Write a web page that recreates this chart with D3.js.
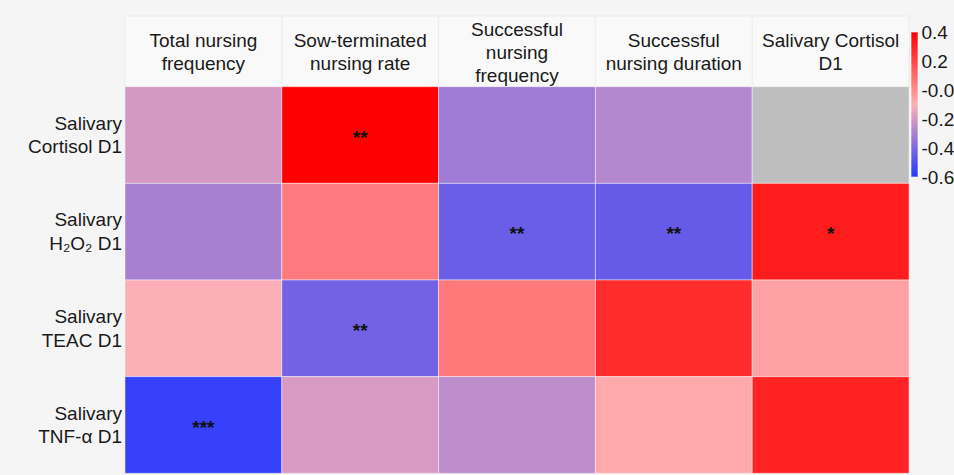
<!DOCTYPE html>
<html>
<head>
<meta charset="utf-8">
<script src="https://cdn.jsdelivr.net/npm/d3@7"></script>
<style>
  body { margin: 0; background: #f5f5f5; }
  svg { display: block; font-family: "Liberation Sans", Arial, sans-serif; }
</style>
</head>
<body>
<div id="chart"></div>
<script>
// correlation heatmap, salivary markers vs nursing behaviour
var columns = ["Total nursing\nfrequency", "Sow-terminated\nnursing rate", "Successful\nnursing\nfrequency", "Successful\nnursing duration", "Salivary Cortisol\nD1"]
var rows = ["Salivary\nCortisol D1", "Salivary\nH\u2082O\u2082 D1", "Salivary\nTEAC D1", "Salivary\nTNF-\u03b1 D1"]

// correlation coefficients, one array per row (null = not computed)
var cortisolR = [-0.20, 0.40, -0.32, -0.27, null]
var h2o2R = [-0.30, 0.05, -0.44, -0.45, 0.32]
var teacR = [-0.11, -0.42, 0.06, 0.275, -0.055]
var tnfR = [-0.56, -0.19, -0.25, -0.08, 0.30]

// significance marks
var cortisolSig = ["", "**", "", "", ""]
var h2o2Sig = ["", "", "**", "**", "*"]
var teacSig = ["", "**", "", "", ""]
var tnfSig = ["***", "", "", "", ""]

var legendTicks = [0.4, 0.2, 0, -0.2, -0.4, -0.6]
var legendLabels = ["0.4", "0.2", "-0.0", "-0.2", "-0.4", "-0.6"]

var values = [cortisolR, h2o2R, teacR, tnfR]
var sigs = [cortisolSig, h2o2Sig, teacSig, tnfSig]

var cells = []
values.forEach(function(r, i) {
  r.forEach(function(v, j) {
    cells.push({row: rows[i], col: columns[j], value: v, sig: sigs[i][j]})
  })
})

var width = 954, height = 475
var grid = {left: 125, right: 909, top: 86.7, bottom: 473.3}

var svg = d3.select("#chart")
  .append("svg")
    .attr("width", width)
    .attr("height", height)

var x = d3.scaleBand()
  .domain(columns)
  .range([grid.left, grid.right])

var y = d3.scaleBand()
  .domain(rows)
  .range([grid.top, grid.bottom])

var color = d3.scaleLinear()
  .domain([-0.6, -0.1, 0.4])
  .range(["#2437ff", "#ffb0b4", "#ff0000"])
  .interpolate(d3.interpolateRgb)

// light panel behind the table
svg.append("rect")
  .attr("x", grid.left)
  .attr("y", 16)
  .attr("width", grid.right - grid.left)
  .attr("height", grid.bottom - 16)
  .attr("fill", "#f9f9f9")
  .attr("stroke", "#ececec")

// faint separators in the header band
svg.selectAll("line.sep")
  .data(columns.slice(1))
  .enter()
  .append("line")
    .attr("class", "sep")
    .attr("x1", function(d) { return x(d); })
    .attr("x2", function(d) { return x(d); })
    .attr("y1", 16)
    .attr("y2", grid.top)
    .attr("stroke", "#ececec")

// cells
svg.selectAll("rect.cell")
  .data(cells)
  .enter()
  .append("rect")
    .attr("class", "cell")
    .attr("x", function(d) { return x(d.col); })
    .attr("y", function(d) { return y(d.row); })
    .attr("width", x.bandwidth())
    .attr("height", y.bandwidth())
    .attr("fill", function(d) { return d.value == null ? "#bebebe" : color(d.value); })
    .attr("stroke", "rgba(255,255,255,0.45)")
    .attr("stroke-width", 1)

// stars
svg.selectAll("text.sig")
  .data(cells.filter(function(d) { return d.sig != ""; }))
  .enter()
  .append("text")
    .attr("class", "sig")
    .attr("x", function(d) { return x(d.col) + x.bandwidth() / 2; })
    .attr("y", function(d) { return y(d.row) + y.bandwidth() / 2 + 8.8; })
    .attr("text-anchor", "middle")
    .attr("font-size", 19)
    .attr("font-weight", "bold")
    .attr("fill", "#111")
    .text(function(d) { return d.sig; })

// column headers, centred block of lines
var headers = svg.selectAll("text.colhead")
  .data(columns)
  .enter()
  .append("text")
    .attr("class", "colhead")
    .attr("text-anchor", "middle")
    .attr("font-size", 19)
    .attr("fill", "#1a1a1a")

headers.each(function(d) {
  var lines = d.split("\n")
  var t = d3.select(this)
  lines.forEach(function(l, i) {
    t.append("tspan")
      .attr("x", x(d) + x.bandwidth() / 2)
      .attr("y", 58.8 + (i - (lines.length - 1) / 2) * 22.7)
      .text(l)
  })
})

// row labels
var rowLabels = svg.selectAll("text.rowhead")
  .data(rows)
  .enter()
  .append("text")
    .attr("class", "rowhead")
    .attr("text-anchor", "end")
    .attr("font-size", 19)
    .attr("fill", "#1a1a1a")

rowLabels.each(function(d) {
  var lines = d.split("\n")
  var t = d3.select(this)
  lines.forEach(function(l, i) {
    t.append("tspan")
      .attr("x", 122)
      .attr("y", y(d) + y.bandwidth() / 2 + 6.5 + (i - (lines.length - 1) / 2) * 23.5)
      .text(l)
  })
})

// colour bar
var legendY = d3.scaleLinear()
  .domain([-0.6, 0.4])
  .range([177, 32])

var defs = svg.append("defs")
var grad = defs.append("linearGradient")
  .attr("id", "bar")
  .attr("x1", 0).attr("x2", 0)
  .attr("y1", 1).attr("y2", 0)

d3.range(0, 1.0001, 0.05).forEach(function(t) {
  grad.append("stop")
    .attr("offset", t)
    .attr("stop-color", color(-0.6 + t))
})

svg.append("rect")
  .attr("x", 911)
  .attr("y", legendY(0.4))
  .attr("width", 7)
  .attr("height", legendY(-0.6) - legendY(0.4))
  .attr("fill", "url(#bar)")
  .attr("stroke", "rgba(255,255,255,0.6)")

svg.selectAll("text.tick")
  .data(legendTicks)
  .enter()
  .append("text")
    .attr("class", "tick")
    .attr("x", 921.5)
    .attr("y", function(d) { return legendY(d) + 7; })
    .attr("font-size", 19)
    .attr("fill", "#1a1a1a")
    .text(function(d, i) { return legendLabels[i]; })
</script>
</body>
</html>
